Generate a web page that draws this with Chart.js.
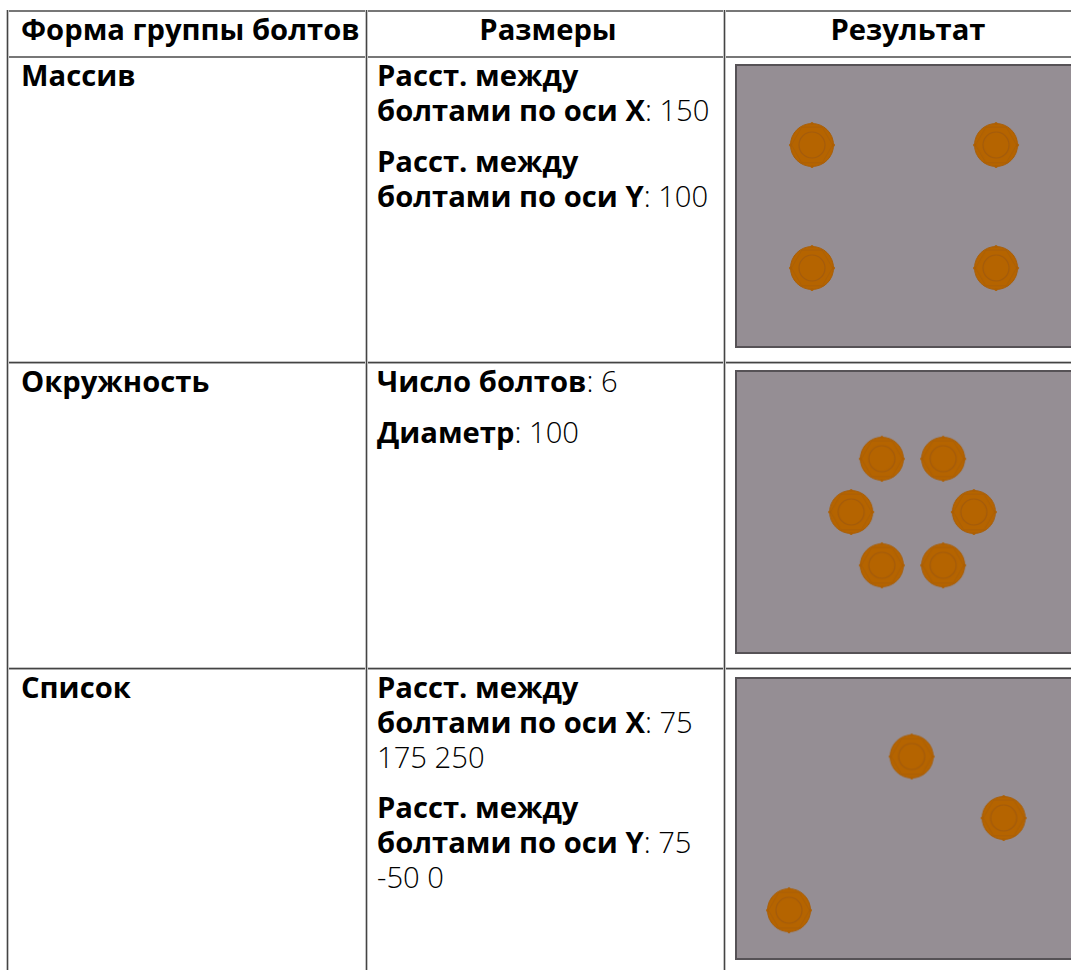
<!DOCTYPE html>
<html lang="ru">
<head>
<meta charset="utf-8">
<script src="https://cdn.jsdelivr.net/npm/chart.js@4"></script>
<style>
html,body{margin:0;padding:0;background:#fff;width:1071px;height:970px;overflow:hidden}
body{position:relative;font-family:"Open Sans",sans-serif;color:#000;font-size:29.2px;font-weight:300;-webkit-font-smoothing:antialiased}
.t{position:absolute;white-space:nowrap;line-height:34.6px}
.h{font-weight:700}
b{font-weight:700}
.c{text-align:center}
.hl{position:absolute;height:2px;background:#777;left:7px;right:0}
.hd{height:3px;background:linear-gradient(#c4c4c4 0 33%,#444 33% 66%,#aaa 66%)}
.vl{position:absolute;width:3px;background:linear-gradient(90deg,#c4c4c4 0 33%,#444 33% 66%,#c4c4c4 66%);bottom:0}
.plate{position:absolute;left:735px;width:345px;box-sizing:border-box;border:2px solid #565256;background:#958e94}
canvas{position:absolute;left:-2px;top:-2px}
</style>
</head>
<body>
<div class="hl" style="top:10px"></div>
<div class="hl" style="top:56px"></div>
<div class="hl hd" style="top:361px"></div>
<div class="hl hd" style="top:667px"></div>
<div class="vl" style="left:6px;top:10px"></div>
<div class="vl" style="left:365px;top:10px"></div>
<div class="vl" style="left:723px;top:10px"></div>

<div id="texts"></div>

<div class="plate" style="top:64px;height:284px"><canvas id="c1" width="336" height="284"></canvas></div>
<div class="plate" style="top:370px;height:284px"><canvas id="c2" width="336" height="284"></canvas></div>
<div class="plate" style="top:677px;height:283px"><canvas id="c3" width="336" height="283"></canvas></div>

<script>
// ---- table text ----
const headers = ["Форма группы болтов", "Размеры", "Результат"];
const shapes = ["Массив", "Окружность", "Список"];
const labelSpacingX = "Расст. между<br>болтами по оси X";
const labelSpacingY = "Расст. между<br>болтами по оси Y";
const labelCount = "Число болтов";
const labelDiameter = "Диаметр";

// ---- bolt positions (mm) ----
const arrayX = [0, 150, 0, 150];
const arrayY = [0, 0, 100, 100];
const circleX = [-25, 25, -50, 50, -25, 25];
const circleY = [-43.3, -43.3, 0, 0, 43.3, 43.3];
const listX = [75, 175, 250];
const listY = [75, -50, 0];

// ---- text placement ----
function addText(html, left, top, cls, width){
  const d = document.createElement('div');
  d.className = 't ' + (cls||'');
  d.style.left = left + 'px'; d.style.top = top + 'px';
  if (width) d.style.width = width + 'px';
  d.innerHTML = html;
  document.getElementById('texts').appendChild(d);
}
addText(headers[0], 21, 12, 'h');
addText(headers[1], 367, 12, 'h c', 362);
addText(headers[2], 726, 12, 'h c', 364);
addText(shapes[0], 21, 58, 'h');
addText(shapes[1], 21, 364, 'h');
addText(shapes[2], 21, 670, 'h');
addText('<b>' + labelSpacingX + '</b>: 150', 377, 58);
addText('<b>' + labelSpacingY + '</b>: 100', 377, 144);
addText('<b>' + labelCount + '</b>: 6', 377, 364);
addText('<b>' + labelDiameter + '</b>: 100', 377, 415);
addText('<b>' + labelSpacingX + '</b>: 75<br>175 250', 377, 670.4);
addText('<b>' + labelSpacingY + '</b>: 75<br>-50 0', 377, 790.4);

// ---- bolt marker ----
function boltMarker(){
  const s = 50, c = document.createElement('canvas');
  c.width = c.height = s;
  const g = c.getContext('2d'), m = s/2;
  g.fillStyle = '#b56400';
  g.strokeStyle = '#a85e08';
  g.lineWidth = 1;
  g.beginPath(); g.arc(m, m, 21.5, 0, Math.PI*2); g.fill(); g.stroke();
  g.fillStyle = '#ad6004';
  for (let i = 0; i < 4; i++){
    const a = i*Math.PI/2;
    g.beginPath(); g.arc(m+21.5*Math.cos(a), m+21.5*Math.sin(a), 1.5, 0, Math.PI*2); g.fill();
  }
  g.beginPath(); g.arc(m, m, 13, 0, Math.PI*2); g.strokeStyle='#a45c0c'; g.lineWidth=1.2; g.stroke();
  g.beginPath();
  for (let i = 0; i < 6; i++){
    const a = i*Math.PI/3;
    const x = m+20.5*Math.cos(a), y = m+20.5*Math.sin(a);
    i ? g.lineTo(x,y) : g.moveTo(x,y);
  }
  g.closePath(); g.strokeStyle='rgba(164,92,12,.55)'; g.lineWidth=1; g.stroke();
  return c;
}
const marker = boltMarker();

function plateChart(id, xs, ys, xMin, xMax, yMin, yMax){
  new Chart(document.getElementById(id), {
    type: 'scatter',
    data: { datasets: [{
      data: xs.map((x,i)=>({x, y: ys[i]})),
      pointStyle: marker,
      pointRadius: 25,
      pointHoverRadius: 25,
      clip: false
    }]},
    options: {
      responsive: false,
      animation: false,
      layout: { padding: 0, autoPadding: false },
      plugins: { legend: {display:false}, tooltip: {enabled:false} },
      scales: {
        x: { type:'linear', display:false, bounds:'data', min:xMin, max:xMax },
        y: { type:'linear', display:false, bounds:'data', min:yMin, max:yMax, reverse:true }
      }
    }
  });
}
const pxX = 1.2267, pxY = 1.23;
plateChart('c1', arrayX, arrayY, -(812-735)/pxX, -(812-735)/pxX + 336/pxX, -(145-64)/pxY, -(145-64)/pxY + 284/pxY);
plateChart('c2', circleX, circleY, -(912.5-735)/pxX, -(912.5-735)/pxX + 336/pxX, -(512-370)/pxY, -(512-370)/pxY + 284/pxY);
plateChart('c3', listX, listY, 75-(789-735)/pxX, 75-(789-735)/pxX + 336/pxX, -(818-677)/pxY, -(818-677)/pxY + 283/pxY);
</script>
</body>
</html>
